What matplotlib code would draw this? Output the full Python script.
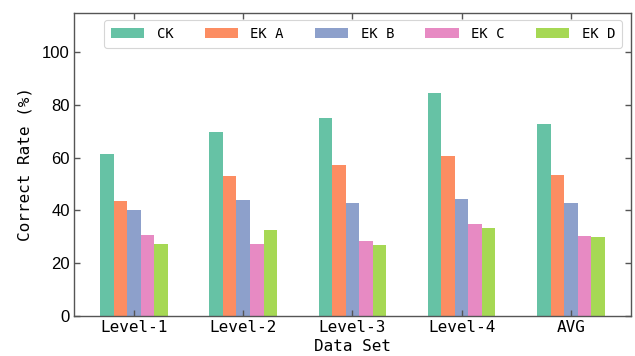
import matplotlib
matplotlib.use("Agg")
import matplotlib.pyplot as plt
import numpy as np

datasets = ["Level-1", "Level-2", "Level-3", "Level-4", "AVG"]
methods = ["CK", "EK A", "EK B", "EK C", "EK D"]
ck = [61.6, 69.8, 75.1, 84.7, 72.8]
ek_a = [43.5, 53.1, 57.1, 60.7, 53.6]
ek_b = [40.3, 44.0, 42.9, 44.3, 42.9]
ek_c = [30.7, 27.4, 28.2, 34.7, 30.2]
ek_d = [27.2, 32.5, 26.7, 33.4, 30.0]
series = [ck, ek_a, ek_b, ek_c, ek_d]
colors = ["#66c2a5", "#fc8d62", "#8da0cb", "#e78ac3", "#a6d854"]
yticks = [0, 20, 40, 60, 80, 100]

mono = "DejaVu Sans Mono"
sans = "Liberation Sans"

fig = plt.figure(figsize=(6.35, 3.56), dpi=100)
ax = fig.add_axes([0.1165, 0.1132, 0.877, 0.8503])

x = np.arange(len(datasets))
width = 0.124
for i, (vals, name, c) in enumerate(zip(series, methods, colors)):
    ax.bar(x + (i - 2) * width, vals, width, color=c, label=name, linewidth=0)

ax.set_xlim(-0.55, 4.55)
ax.set_ylim(0, 115)
ax.set_xticks(x)
ax.set_xticklabels(datasets, fontfamily=mono, fontsize=11.5)
ax.set_yticks(yticks)
ax.set_yticklabels([str(v) for v in yticks], fontfamily=sans, fontsize=12)
ax.tick_params(direction="in", top=True, right=True, length=4, width=1,
               color="#555555", pad=3)
for s in ax.spines.values():
    s.set_color("#555555")
    s.set_linewidth(1.0)

ax.set_xlabel("Data Set", fontfamily=mono, fontsize=11.5, labelpad=3)
ax.set_ylabel("Correct Rate (%)", fontfamily=mono, fontsize=11.5, labelpad=7)

leg = ax.legend(loc="upper center", bbox_to_anchor=(0.054, 0.0, 0.93, 0.977),
                mode="expand", ncol=5, borderaxespad=0, frameon=True,
                prop={"family": mono, "size": 10}, handlelength=2.4,
                handleheight=0.8, handletextpad=0.9, borderpad=0.5)
leg.get_frame().set_edgecolor("#cccccc")
leg.get_frame().set_linewidth(0.8)

fig.savefig("out.png", dpi=100)
